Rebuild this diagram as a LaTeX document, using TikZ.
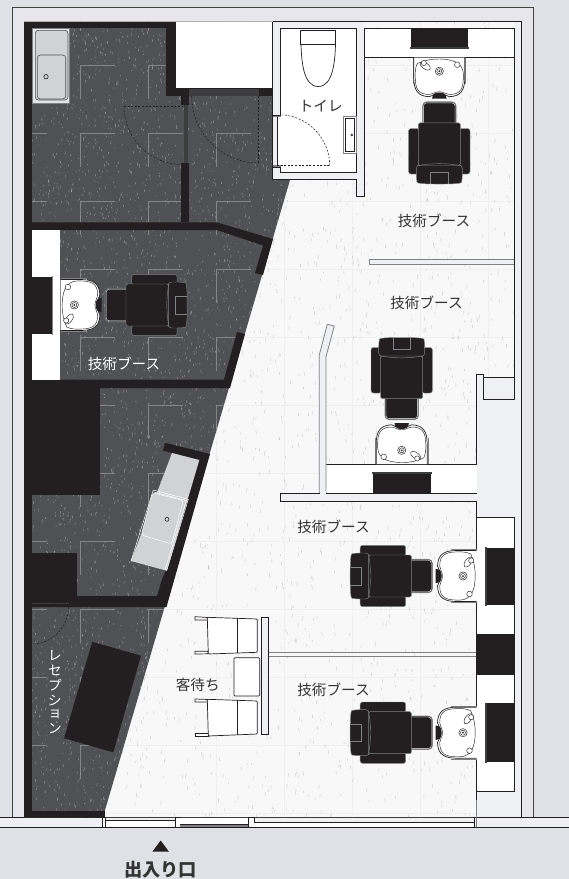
\documentclass[tikz,border=0pt]{standalone}
\usepackage{fontspec}
\newfontfamily\cjk{Noto Sans CJK JP}
\usetikzlibrary{calc}
\definecolor{bgc}{HTML}{E0E0E7}
\definecolor{stripc}{HTML}{E6E6EC}
\definecolor{wallc}{HTML}{EFF0F3}
\definecolor{blk}{HTML}{231F20}
\definecolor{darkfloor}{HTML}{505154}
\definecolor{lightfloor}{HTML}{F8F8F9}
\definecolor{sinkc}{HTML}{D1D2D4}
\definecolor{txt}{HTML}{333333}
\definecolor{midg}{HTML}{3C3D3F}
\definecolor{edge}{HTML}{808285}
\tikzset{
  x=1pt,y=-1pt,
  hair/.style={draw=blk,line width=.7pt},
  thinl/.style={draw=blk,line width=.45pt},
  chairl/.style={draw=edge,line width=.45pt},
  doordash/.style={draw=blk,line width=.55pt,dash pattern=on 2pt off 1.6pt},
  label/.style={font=\cjk\fontsize{14.6}{16}\selectfont,text=txt,inner sep=0pt},
  wlabel/.style={font=\cjk\fontsize{14.6}{16}\selectfont,text=white,inner sep=0pt},
  vlabel/.style={font=\cjk\fontsize{13.6}{14}\selectfont,text=white,inner sep=0pt},
}
\newcommand\shampoounit{%
    \fill[white] (-26,0) rectangle (26,26);
    \draw[draw=edge,line width=.5pt] (-26.3,0) -- (-26.3,26) (26.3,0) -- (26.3,26);
    \draw[hair,fill=white] (-25.5,0) -- (-25.5,20) .. controls (-25.5,32) and (-22,38.8) .. (-10,39.2) .. controls (-7,39.4) and (-7,36) .. (0,36) .. controls (7,36) and (7,39.4) .. (10,39.2) .. controls (22,38.8) and (25.5,32) .. (25.5,20) -- (25.5,0);
    \draw[thinl,fill=white] (-22,6) .. controls (-14,2.5) and (-8,1.5) .. (0,1.5) .. controls (8,1.5) and (15,3) .. (19,6) .. controls (24,10) and (24.5,15) .. (24,22) .. controls (23.5,30) and (22,37) .. (10,37) .. controls (6,37) and (5,34.2) .. (0,34.2) .. controls (-5,34.2) and (-6,37) .. (-10,37) .. controls (-22,37) and (-23.5,30) .. (-24,22) .. controls (-24.5,15) and (-24,10) .. (-22,6) -- cycle;
    \fill[blk] (-7.2,41) .. controls (-7,36.5) and (-4,35) .. (0,35) .. controls (4,35) and (7,36.5) .. (7.2,41) -- cycle;
    \draw[thinl,fill=white,rotate around={-35:(-14,8.5)}] (-14,8.5) ellipse (6 and 3);
    \draw[thinl,fill=white] (-15.5,5.5) circle (2.6);
    \draw[thinl,fill=white] (18,7.2) circle (2.8);
    \draw[thinl] (0,13.7) circle (4.1);
    \draw[thinl] (0,13.7) circle (2.5);
    \fill[blk] (0,13.7) circle (1);
    \fill[blk,rounded corners=4pt] (-16.7,44.3) rectangle (16.7,70);
    \draw[draw=edge,line width=.7pt,rounded corners=4pt] (-16.7,66) -- (-16.7,44.3) -- (16.7,44.3) -- (16.7,66);
    \draw[draw=white,line width=.35pt,rounded corners=3pt] (-15.7,66) -- (-15.7,45.4) -- (15.7,45.4) -- (15.7,66);
    \draw[chairl,fill=blk,rounded corners=2.5pt] (-30.7,71) rectangle (-20,116.5);
    \draw[chairl,fill=blk,rounded corners=2.5pt] (30.7,71) rectangle (20,116.5);
    \draw[chairl,fill=blk,rounded corners=4pt] (-23,107) -- (-23,121) .. controls (-22,126) and (-12,126.5) .. (0,126.5) .. controls (12,126.5) and (22,126) .. (23,121) -- (23,107) -- cycle;
    \draw[chairl] (-8.8,126.2) -- (-8.8,115) -- (8.8,115) -- (8.8,126.2);
    \draw[chairl,fill=blk,rounded corners=1.5pt] (-21,65.3) rectangle (21,108);
    \draw[chairl] (-21.5,108.3) .. controls (-10,105.5) and (10,105.5) .. (21.5,108.3);
}
\begin{document}
\begin{tikzpicture}
\useasboundingbox (0,0) rectangle (569,879);
\fill[bgc] (0,0) rectangle (569,879);
\fill[stripc] (12.5,7.5) rectangle (533.5,817);
\draw[draw=blk!85,line width=.7pt] (12.5,817) -- (12.5,7.5) -- (533.5,7.5) -- (533.5,817);
\fill[wallc] (0,817) rectangle (569,827);
\draw[draw=blk,line width=.6pt] (0,817.3) -- (569,817.3);
\draw[draw=blk,line width=.7pt] (0,827.2) -- (569,827.2);
\fill[wallc] (24,21.7) rectangle (521.7,817);
\draw[draw=blk,line width=.7pt] (273,21.5) -- (521.7,21.5) -- (521.7,817.3);
% floors
\fill[lightfloor] (290.2,21.7) -- (514.3,21.7) -- (514.3,377.3) -- (483.7,377.3) -- (483.7,374) -- (476.7,374) -- (476.7,817) -- (103,817) -- cycle;
\begin{scope}
  \clip (290.2,21.7) -- (514.3,21.7) -- (514.3,377.3) -- (483.7,377.3) -- (483.7,374) -- (476.7,374) -- (476.7,817) -- (103,817) -- cycle;
  \draw[draw=black!6,line width=.5pt] \foreach \v in {216.7,284.7,352.7,420.7,488.7}{(\v,0) -- (\v,830)};
  \draw[draw=black!6,line width=.5pt] \foreach \v in {65,133,201,269,337,405,473,541,609,677,745,813}{(100,\v) -- (520,\v)};
  \pgfmathsetseed{11}
  \draw[draw=black!22,line width=.4pt] \foreach \i in {1,...,1900}{({100+rnd*420},{20+rnd*800}) -- ++({(rnd-.5)*1.6},{1.6+rnd*2.8})};
\end{scope}
\fill[darkfloor] (24,21.7) -- (290.2,21.7) -- (290.2,179.3) -- (103,817) -- (24,817) -- cycle;
\begin{scope}
  \clip (24,21.7) -- (290.2,21.7) -- (290.2,179.3) -- (103,817) -- (24,817) -- cycle;
  \draw[draw=black!48,line width=.45pt,dash pattern=on 34pt off 34pt] \foreach \v in {12.7,80.7,148.7,216.7,284.7}{(\v,-3) -- (\v,830)};
  \draw[draw=black!48,line width=.45pt,dash pattern=on 34pt off 34pt] \foreach \v in {65,133,201,269,337,405,473,541,609,677,745,813}{(12.7,\v) -- (300,\v)};
  \pgfmathsetseed{7}
  \draw[draw=black!38,line width=.4pt] \foreach \i in {1,...,4200}{({24+rnd*268},{20+rnd*800}) -- ++({(rnd-.5)*1.2},{.6+rnd*2.2})};
\end{scope}
\fill[white] (175.7,21.7) rectangle (273,88);
% black walls
\fill[blk] (24,21.7) rectangle (175.7,28.3);
\fill[blk] (24,21.7) rectangle (31.5,817);
\fill[blk] (166,28) rectangle (175.7,95.5);
\fill[blk] (166,88) rectangle (273,95.5);
\fill[midg] (189.3,89) rectangle (259,95.5);
\fill[blk] (181,95) rectangle (189,105);
\fill[blk] (181,163) rectangle (189,222);
\fill[midg] (183.7,105) rectangle (188,163);
\fill[blk] (31,222.3) -- (216.7,222.3) -- (273,239) -- (263,275) -- (255,273) -- (263,245.5) -- (216.7,230) -- (31,230) -- cycle;
\fill[blk] (237,332) -- (245,334) -- (230,388) -- (31,388) -- (31,379.5) -- (224,379.5) -- cycle;
\fill[blk] (24,388) rectangle (100,495);
\fill[blk] (24,553) rectangle (76.7,607);
\fill[blk] (24,596) -- (157,596) -- (161.7,580) -- (166,570) -- (199.3,460) -- (163,450.7) -- (165,442.7) -- (210,454) -- (166.5,607) -- (24,607) -- cycle;
\fill[blk] (24,810.7) rectangle (105,817.3);
% left counter
\fill[white] (31.5,230) rectangle (60,379.5);
\fill[blk] (24,277) rectangle (52,334);
\draw[draw=edge,line width=.9pt] (52.3,276) -- (52.3,334.5);
% kitchen counter
\fill[sinkc] (172,453) -- (199.3,460) -- (166.7,570.7) -- (131,561) -- cycle;
\draw[draw=white,line width=.5pt] (153.3,490) -- (188.3,499.3) (153.8,492) -- (187.8,501);
\draw[draw=white,line width=.5pt] (153.3,490) -- (131,561) (188.3,499.3) -- (166.7,570.7) (186.5,500) -- (165,570);
\draw[draw=white,line width=.5pt,fill=sinkc,rounded corners=3pt] (152.7,492.7) -- (183.3,500.5) -- (171.7,544) -- (141.3,535) -- cycle;
\draw[draw=blk,line width=.6pt] (167,519.3) circle (2);
% top-left sink
\draw[draw=edge,line width=.6pt,fill=sinkc!60!white] (32,28.3) rectangle (69.7,103);
\draw[draw=darkfloor,line width=.6pt,fill=sinkc,rounded corners=3pt] (35.3,30.3) rectangle (68,100);
\draw[draw=darkfloor,line width=.6pt,fill=sinkc,rounded corners=3pt] (37.3,55) rectangle (65.7,99);
\draw[draw=blk,line width=.6pt] (46,76.7) circle (2.2);
% doors in dark area
\draw[doordash] (124,106.5) -- (183,106.5);
\draw[doordash] (124,106.5) arc[start angle=180,end angle=90,radius=58];
\draw[doordash] (258.7,96) -- (258.7,163);
\draw[doordash] (191.7,96) arc[start angle=180,end angle=90,radius=67];
\draw[doordash] (68.5,607) arc[start angle=0,end angle=85,radius=37];
\draw[draw=midg,line width=1pt] (31.5,603.5) -- (68.5,603.5);
% desk
\fill[blk] (92.3,641.7) -- (141,655.7) -- (113.3,752.3) -- (64,738.3) -- cycle;
% toilet room
\fill[wallc] (273,21.7) rectangle (364.3,179.3);
\fill[wallc] (356.7,170) rectangle (364.3,196.3);
\draw[hair] (272.8,88) -- (272.8,179.3) -- (356.7,179.3) -- (356.7,196.3) -- (364.3,196.3) -- (364.3,28.3);
\draw[hair] (272.8,21.5) -- (272.8,89);
\draw[hair,fill=white] (280.7,28.3) rectangle (356.7,172);
\fill[white] (277.3,115) rectangle (282,168);
\draw[hair] (280.7,28.3) -- (280.7,115) -- (273,115);
\draw[hair] (277.3,116.5) -- (277.3,166);
\draw[hair] (273,167) -- (280.7,167) -- (280.7,172);
\draw[draw=edge,line width=1.4pt] (273,116.5) -- (280.7,116.5) (273,166) -- (280.7,166);
\draw[hair] (300.7,30.5) rectangle (335.7,44.5);
\draw[hair] (301,44.5) .. controls (301.5,60) and (303,86.5) .. (318.2,86.5) .. controls (333.4,86.5) and (335,60) .. (335.5,44.5);
\draw[draw=edge,line width=.6pt] (343.3,116.7) rectangle (356.3,153);
\draw[thinl] (345,118.3) rectangle (354.5,151.5);
\draw[thinl] (351.7,135) circle (1);
\draw[doordash] (277,165.7) -- (329.7,165.7);
\draw[doordash] (329.7,165.7) arc[start angle=0,end angle=-86,radius=51];
% booth back top right
\draw[hair,fill=white] (364.3,28.3) rectangle (514.3,57.3);
\fill[blk] (411,28.3) rectangle (468.3,47);
\fill[midg] (410,47) rectangle (469.3,49.3);
\draw[hair] (273,21.5) -- (521.7,21.5);
\draw[hair] (514.3,28.3) -- (514.3,377.3) -- (483.7,377.3) -- (483.7,374) -- (476.7,374) -- (476.7,817.3);
\draw[hair] (483.7,377.3) -- (483.7,399.3) -- (514.3,399.3) -- (514.3,377.3);
\draw[draw=edge,line width=1pt] (476,800) -- (476,827);
% partitions
\draw[draw=edge,line width=.9pt,fill=wallc] (514.3,259.5) -- (369.3,259.5) -- (369.3,264) -- (514.3,264);
\fill[white] (326,464) rectangle (476.7,493.3);
\draw[hair] (326,464) -- (476.7,464);
\fill[blk] (373.3,473.3) rectangle (430.7,493.3);
\fill[midg] (372,471.5) rectangle (432,473.5);
\draw[draw=edge,line width=.8pt,fill=wallc] (319.3,493.3) -- (319.3,355) -- (327.3,324.3) -- (334.3,326) -- (326,356.7) -- (326,493.3);
\draw[hair,fill=wallc] (476.7,493.3) -- (280,493.3) -- (280,501.3) -- (476.7,501.3);
\fill[wallc] (319.8,491) rectangle (325.5,493.8);
\draw[draw=edge,line width=1.2pt] (268.7,652.5) -- (476.7,652.5);
\draw[draw=edge,line width=.8pt] (268.7,656) -- (476.7,656);
% right cabinet
\draw[hair,fill=white] (476.7,517.3) rectangle (514.7,791);
\fill[blk] (486.7,547.7) rectangle (514.7,605);
\fill[blk] (476.7,634.3) rectangle (514.7,675);
\fill[blk] (486.7,703.3) rectangle (514.7,762.3);
\fill[midg] (484.7,547) rectangle (486.7,605.5);
\fill[midg] (484.7,703) rectangle (486.7,762.8);
% shampoo units
\begin{scope}[shift={(439.3,57.5)}]\shampoounit\end{scope}
\begin{scope}[shift={(401.7,464)},rotate=180]\shampoounit\end{scope}
\begin{scope}[shift={(60.7,305)},rotate=90]\shampoounit\end{scope}
\begin{scope}[shift={(476.7,576)},rotate=-90]\shampoounit\end{scope}
\begin{scope}[shift={(476.7,732.7)},rotate=-90]\shampoounit\end{scope}
% waiting area
\draw[hair,fill=wallc] (261,617.3) rectangle (268.7,734.7);
\draw[hair,fill=white,rounded corners=1pt] (234,657.7) rectangle (259.7,696);
\draw[hair,fill=white] (195,616.7) -- (208,617.5) -- (208,620) -- (195,620) -- cycle;
\draw[hair,fill=white] (195,651.3) -- (208,651.3) -- (208,653.8) -- (195,654) -- cycle;
\draw[hair,fill=white,rounded corners=1pt] (207.3,617.3) -- (257.3,619) -- (257.3,652.3) -- (208.3,654) -- cycle;
\draw[hair] (237.7,618.2) -- (237.7,653);
\draw[hair,fill=white] (195,699) -- (208,699.5) -- (208,702) -- (195,702) -- cycle;
\draw[hair,fill=white] (195,733.4) -- (208,733.4) -- (208,736) -- (195,736) -- cycle;
\draw[hair,fill=white,rounded corners=1pt] (207.3,699.3) -- (257.3,701) -- (257.3,734) -- (208.3,736) -- cycle;
\draw[hair] (237.7,700.2) -- (237.7,735);
% entrance
\draw[hair,fill=white] (102.5,817.3) rectangle (105.6,827.2);
\fill[white] (105.6,820) rectangle (175.7,827);
\draw[thinl] (105.6,820) -- (175.7,820);
\draw[hair,fill=white] (175.7,817.3) rectangle (180,827.2);
\fill[white] (180,817.6) rectangle (248.3,824);
\draw[thinl] (180,824.2) -- (248.3,824.2);
\fill[edge] (180,825) rectangle (248.3,826.8);
\draw[hair,fill=white] (248.3,817.3) rectangle (254,827.2);
\fill[white] (254,822.3) rectangle (474,827);
\draw[thinl] (254,822.3) -- (474,822.3);
\draw[hair] (474,817.3) -- (474,827.2);
% texts
\node[label] (b1) at (434,221) {技術ブース};
\node[label] (b2) at (426.5,303) {技術ブース};
\node[label] (b3) at (333.5,527) {技術ブース};
\node[label] (b4) at (333.5,690) {技術ブース};
\node[wlabel] (b5) at (124,363.5) {技術ブース};
\node[label] (w1) at (197.7,684.5) {客待ち};
\node[label] (t1) at (320.7,106) {トイレ};
\node[vlabel] (r1) at (55,656) {レ};
\node[vlabel] (r2) at (55,670.5) {セ};
\node[vlabel] (r3) at (55,685) {プ};
\node[vlabel] (r4) at (55,700) {シ};
\node[vlabel] (r5) at (55,714.5) {ョ};
\node[vlabel] (r6) at (55,729) {ン};
\fill[blk] (160.7,840.5) -- (169,851.7) -- (152.3,851.7) -- cycle;
\node[font=\cjk\bfseries\fontsize{18.2}{20}\selectfont,text=txt,inner sep=0pt] (ent) at (160.7,869.5) {出入り口};
\end{tikzpicture}
\end{document}
